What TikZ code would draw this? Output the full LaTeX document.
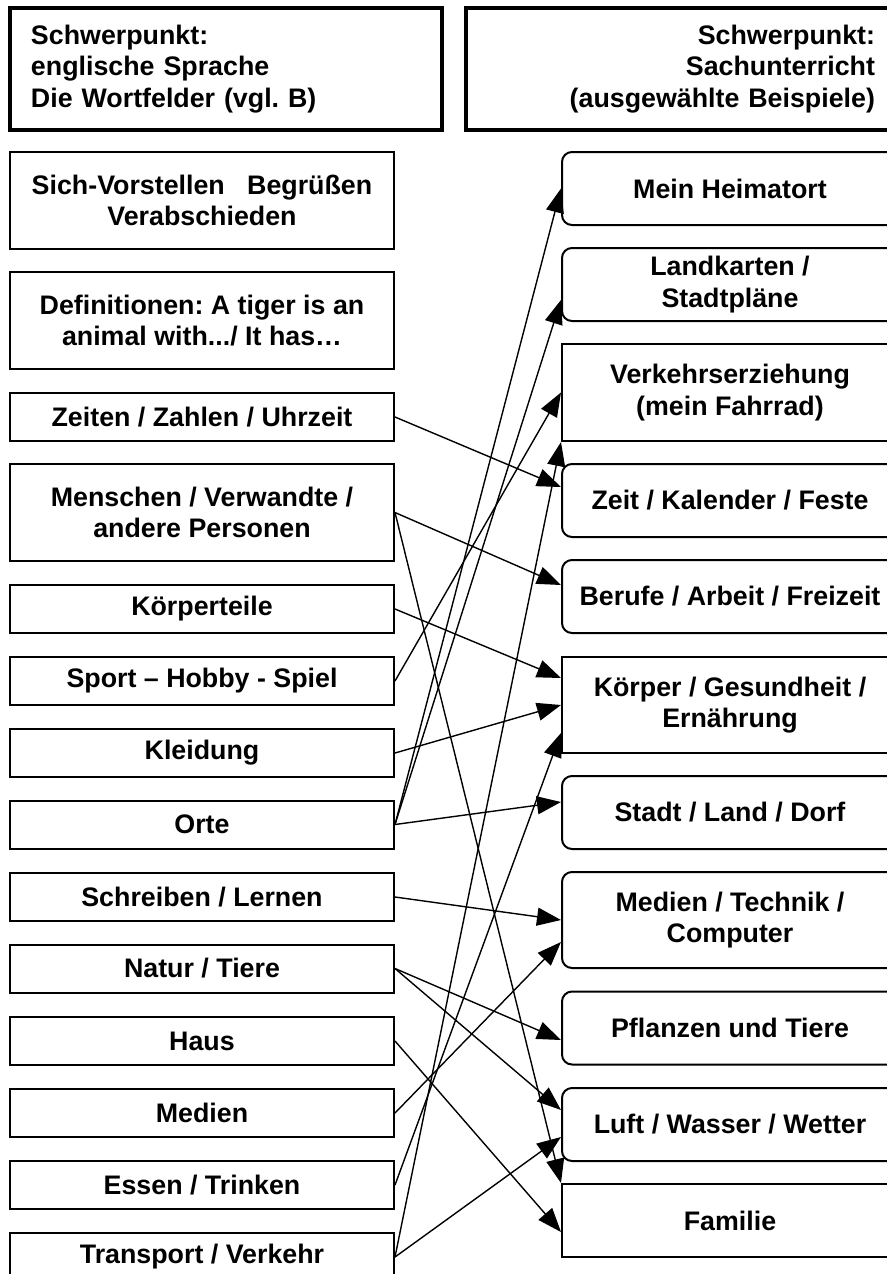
\documentclass[tikz,border=0pt]{standalone}
\usepackage{fontspec}
\setmainfont{Liberation Sans}
\usetikzlibrary{arrows.meta,calc}
\frenchspacing
\begin{document}
\begin{tikzpicture}[x=0.5pt,y=-0.5pt,font=\fontsize{13.4}{15.75}\selectfont\bfseries,
  head/.style={draw,line width=1.7pt,minimum height=61pt},
  wort/.style={draw,line width=1pt,minimum width=192pt,minimum height=24pt,inner sep=0pt,align=center},
  sach/.style={wort,minimum width=168pt,minimum height=36.5pt},
  rund/.style={sach,rounded corners=5pt},
  pfeil/.style={-{Triangle[length=12pt,width=9pt]},line width=0.7pt}]
\useasboundingbox (0,0) rectangle (887,1274);
\clip (0,0) rectangle (887,1274);
\node[head,text width=195pt,inner xsep=10.5pt,align=left] (wortkopf) at (226,69) {Schwerpunkt:\\englische Sprache\\Die Wortfelder (vgl. B)};
\node[head,text width=192pt,inner xsep=12.5pt,align=right] (sachkopf) at (683,69) {Schwerpunkt:\\Sachunterricht\\(ausgewählte Beispiele)};

\node[wort,minimum height=48.5pt] (sich) at (202,200.5) {Sich-Vorstellen~~~Begrüßen\\Verabschieden};
\node[wort,minimum height=48.5pt] (defin) at (202,320.5) {Definitionen: A tiger is an\\animal with.../ It has…};
\node[wort] (zeiten) at (202,417) {Zeiten / Zahlen / Uhrzeit};
\node[wort,minimum height=48.5pt] (menschen) at (202,512.5) {Menschen / Verwandte /\\andere Personen};
\node[wort] (koerperteile) at (202,609) {Körperteile};
\node[wort] (sport) at (202,681) {Sport – Hobby - Spiel};
\node[wort] (kleidung) at (202,753) {Kleidung};
\node[wort] (orte) at (202,824.5) {Orte};
\node[wort] (schreiben) at (202,897) {Schreiben / Lernen};
\node[wort] (natur) at (202,968.5) {Natur / Tiere};
\node[wort] (haus) at (202,1041) {Haus};
\node[wort] (medien) at (202,1113) {Medien};
\node[wort] (essen) at (202,1185) {Essen / Trinken};
\node[wort] (transport) at (202,1257) {Transport / Verkehr};

\node[rund] (heimat) at (730,188.5) {Mein Heimatort};
\node[rund] (landkarten) at (730,284.5) {Landkarten /\\Stadtpläne};
\node[sach,minimum height=48.5pt] (verkehr) at (730,392.5) {Verkehrserziehung\\(mein Fahrrad)};
\node[rund] (zeit) at (730,500.5) {Zeit / Kalender / Feste};
\node[rund] (berufe) at (730,596.5) {Berufe / Arbeit / Freizeit};
\node[sach,minimum height=48pt] (koerper) at (730,705) {Körper / Gesundheit /\\Ernährung};
\node[rund] (stadt) at (730,812.5) {Stadt / Land / Dorf};
\node[rund,minimum height=48pt] (medtech) at (730,920) {Medien / Technik /\\Computer};
\node[rund] (pflanzen) at (730,1028) {Pflanzen und Tiere};
\node[rund] (luft) at (730,1124.5) {Luft / Wasser / Wetter};
\node[sach] (familie) at (730,1220.5) {Familie};

\draw[pfeil] (zeiten.east) -- ($(zeit.west)+(0,-13.5)$);
\draw[pfeil] (menschen.east) -- ($(berufe.west)+(0,-11.5)$);
\draw[pfeil] (menschen.east) -- (familie.north west);
\draw[pfeil] (koerperteile.east) -- ($(koerper.west)+(0,-27)$);
\draw[pfeil] (sport.east) -- (verkehr.west);
\draw[pfeil] (kleidung.east) -- (koerper.west);
\draw[pfeil] (orte.east) -- (heimat.west);
\draw[pfeil] (orte.east) -- ($(landkarten.west)+(0,15.5)$);
\draw[pfeil] (orte.east) -- ($(stadt.west)+(0,-10.5)$);
\draw[pfeil] (schreiben.east) -- (medtech.west);
\draw[pfeil] (natur.east) -- ($(pflanzen.west)+(0,12)$);
\draw[pfeil] (natur.east) -- ($(luft.west)+(0,-14.5)$);
\draw[pfeil] (haus.east) -- ($(familie.west)+(0,11.5)$);
\draw[pfeil] (medien.east) -- ($(medtech.west)+(0,22)$);
\draw[pfeil] (essen.east) -- ($(koerper.west)+(0,28)$);
\draw[pfeil] (transport.east) -- (verkehr.south west);
\draw[pfeil] (transport.east) -- ($(luft.west)+(0,12.5)$);
\end{tikzpicture}
\end{document}
